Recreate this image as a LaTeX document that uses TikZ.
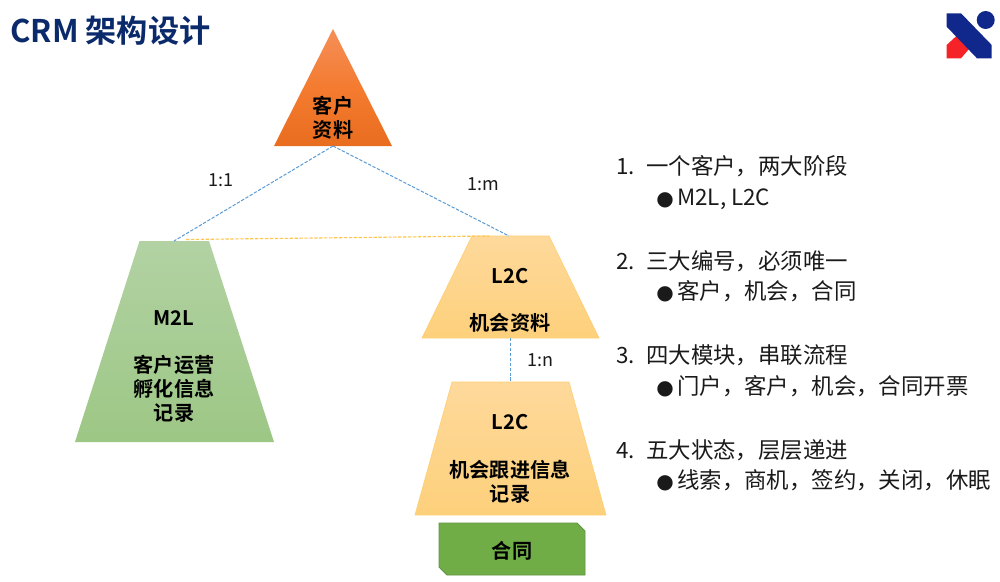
\documentclass[tikz,border=0pt]{standalone}
\usepackage{fontspec}
\setmainfont{Noto Sans CJK SC}[BoldFont={Noto Sans CJK SC Bold}]
\newfontfamily\symfont{DejaVu Sans}
\definecolor{titleblue}{HTML}{0B2A6B}
\definecolor{logoblue}{HTML}{10288C}
\definecolor{logored}{HTML}{F52328}
\definecolor{linkblue}{HTML}{5B9BD5}
\definecolor{linkyellow}{HTML}{FFC64D}
\definecolor{boxgreen}{HTML}{70AD47}
\definecolor{boxedge}{HTML}{5F9440}
\definecolor{inktext}{HTML}{1A1A1A}
\definecolor{F58F58}{HTML}{F58F58}
\definecolor{E96D1F}{HTML}{E96D1F}
\definecolor{F47B30}{HTML}{F47B30}
\definecolor{B2D2A3}{HTML}{B2D2A3}
\definecolor{9DC785}{HTML}{9DC785}
\definecolor{FED99B}{HTML}{FED99B}
\definecolor{FDD07B}{HTML}{FDD07B}
\definecolor{FFCF75}{HTML}{FFCF75}
\tikzset{
  shapelabel/.style={font=\fontsize{15.1}{18}\selectfont\bfseries,align=center,text=black,inner sep=0pt},
  ratio/.style={font=\fontsize{13.5}{15}\selectfont,text=inktext,inner sep=0pt},
  listhead/.style={font=\fontsize{16.8}{19}\selectfont,text=inktext,inner sep=0pt,anchor=base west},
  listsub/.style={font=\fontsize{16.8}{19}\selectfont,text=inktext,inner sep=0pt,anchor=base west},
  bluelink/.style={draw=linkblue,line width=.75pt,dash pattern=on 2.5pt off 1.2pt},
  yellowlink/.style={draw=linkyellow,line width=.85pt,dash pattern=on 2.5pt off 1.2pt},
  orangefill/.style={top color=F58F58,bottom color=E96D1F,middle color=F47B30},
  greenfill/.style={top color=B2D2A3,bottom color=9DC785},
  yellowfill/.style={top color=FED99B,bottom color=FDD07B,draw=FFCF75,line width=.5pt},
}
\newcommand{\sublabel}[1]{\makebox[15.75pt][l]{\symfont\fontsize{15}{19}\selectfont ●}#1}
\begin{document}
\begin{tikzpicture}[x=.75pt,y=-.75pt]
\useasboundingbox (0,0) rectangle (1000,582);
\fill[white] (0,0) rectangle (1000,582);
% title
\node[anchor=west,inner sep=0pt,text=titleblue,font=\fontsize{23.4}{27}\selectfont\bfseries] (title) at (10,31) {CRM 架构设计};
% logo
\fill[logored] (946.7,45) -- (956.7,35.7) -- (969,49) -- (961,58.3) -- (946.7,58.3) -- cycle;
\fill[logoblue] (946.7,13.3) -- (961,13.3) -- (991.7,45) -- (991.7,58.3) -- (977,58.3) -- (946.7,26.7) -- cycle;
\fill[logoblue] (985.7,20) circle[radius=9];
% shapes
\path[orangefill] (333,29) -- (392,146) -- (274,146) -- cycle;
\path[greenfill] (139.5,241) -- (209,241) -- (274,442) -- (75,442) -- cycle;
\path[yellowfill] (472,236) -- (549,236) -- (599,338) -- (422,338) -- cycle;
\path[yellowfill] (452,382) -- (569,382) -- (606,515) -- (415,515) -- cycle;
\path[fill=boxgreen,draw=boxedge,line width=.6pt] (439,523) -- (577,523) -- (585,531) -- (585,575) -- (447,575) -- (439,567) -- cycle;
% anchors
\coordinate (topbase) at (333,146);
\coordinate (m2ltop) at (174,241);
\coordinate (oppotop) at (509,236);
\coordinate (oppobase) at (510,338);
\coordinate (trackstop) at (510,382);
\coordinate (m2lright) at (186,239.5);
\coordinate (oppoleft) at (489,236);
% connectors
\draw[bluelink] (topbase) -- (m2ltop);
\draw[bluelink] (topbase) -- (oppotop);
\draw[yellowlink] (m2lright) -- (oppoleft);
\draw[bluelink] (oppobase) -- (trackstop);
% labels
\node[shapelabel] (cust) at (333,118) {客户\\资料};
\node[shapelabel] (m2l) at (174,318) {M2L};
\node[shapelabel] (m2ltxt) at (174,389) {客户运营\\孵化信息\\记录};
\node[shapelabel] (oppo) at (510,276) {L2C};
\node[shapelabel] (oppotxt) at (510,323) {机会资料};
\node[shapelabel] (track) at (510,422) {L2C};
\node[shapelabel] (tracktxt) at (510,482) {机会跟进信息\\记录};
\node[shapelabel] (contract) at (512,551) {合同};
\node[ratio] (r1) at (221,180) {1:1};
\node[ratio] (r2) at (483,184) {1:m};
\node[ratio] (r3) at (540,360) {1:n};
% list
\node[listhead] (n1) at (616,174.5) {1.};
\node[listhead] (h1) at (646,174.5) {一个客户，两大阶段};
\node[listsub] (s1) at (656,205) {\sublabel{M2L, L2C}};
\node[listhead] (n2) at (616,269) {2.};
\node[listhead] (h2) at (646,269) {三大编号，必须唯一};
\node[listsub] (s2) at (656,299) {\sublabel{客户，机会，合同}};
\node[listhead] (n3) at (616,363.5) {3.};
\node[listhead] (h3) at (646,363.5) {四大模块，串联流程};
\node[listsub] (s3) at (656,394) {\sublabel{门户，客户，机会，合同开票}};
\node[listhead] (n4) at (616,458.5) {4.};
\node[listhead] (h4) at (646,458.5) {五大状态，层层递进};
\node[listsub] (s4) at (656,488) {\sublabel{线索，商机，签约，关闭，休眠}};
\end{tikzpicture}
\end{document}
